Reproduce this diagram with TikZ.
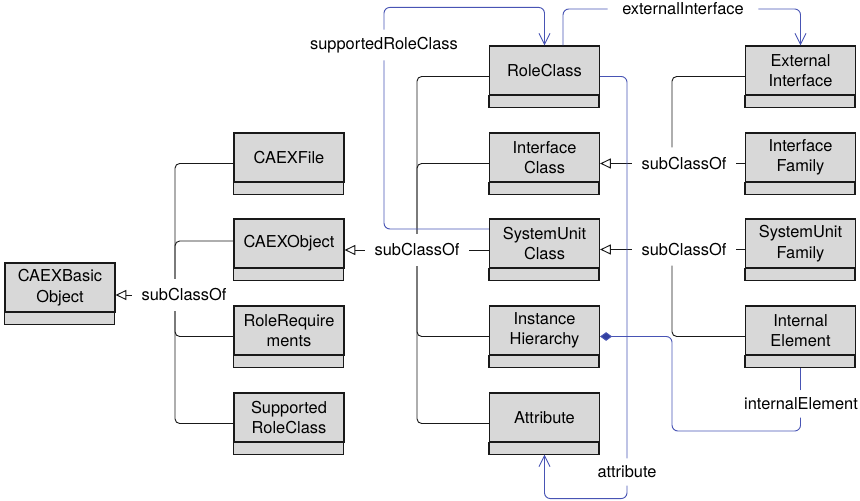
\documentclass[tikz,border=0pt]{standalone}
\usepackage{fontspec}
\setmainfont{TeX Gyre Heros}
\usetikzlibrary{arrows.meta}
\definecolor{boxgray}{RGB}{216,216,216}
\definecolor{assocblue}{RGB}{72,84,180}
\definecolor{diamondblue}{RGB}{50,64,160}

\begin{document}
\begin{tikzpicture}[x=0.3mm, y=-0.3mm, line width=0.8pt,
  font=\fontsize{14}{17.5}\selectfont,
  cls/.style={draw=black!90, fill=boxgray, line width=1pt, minimum width=33mm,
    minimum height=14.7mm, align=center, inner sep=0pt},
  compart/.style={draw=black!90, fill=boxgray, line width=1pt},
  tree/.style={draw=black!90, rounded corners=4pt},
  sub/.style={draw=black!90, -{Triangle[open, length=3.2mm, width=3mm, fill=white]}},
  subl/.style={inner sep=8pt},
  assoc/.style={draw=assocblue, rounded corners=5pt},
  assocl/.style={inner xsep=12pt, inner ysep=6pt},
  nav/.style={-{Straight Barb[length=3.3mm, width=3.3mm]}}]

  \useasboundingbox (0,0) rectangle (860,501);

  % Class boxes (upper part, compartment added below)
  \node[cls] (bo) at (60,287.5) {CAEXBasic\\Object};

  \node[cls] (cf) at (289,157.5) {CAEXFile};
  \node[cls] (co) at (289,243.5) {CAEXObject};
  \node[cls] (rr) at (289,330.5) {RoleRequire\\ments};
  \node[cls] (sr) at (289,417.5) {Supported\\RoleClass};

  \node[cls] (rc) at (544.5,70.5) {RoleClass};
  \node[cls] (ic) at (544.5,157.5) {Interface\\Class};
  \node[cls] (suc) at (544.5,243.5) {SystemUnit\\Class};
  \node[cls] (ih) at (544.5,330.5) {Instance\\Hierarchy};
  \node[cls] (at) at (544.5,417.5) {Attribute};

  \node[cls] (ei) at (800.5,70.5) {External\\Interface};
  \node[cls] (ifam) at (800.5,157.5) {Interface\\Family};
  \node[cls] (sufam) at (800.5,243.5) {SystemUnit\\Family};
  \node[cls] (ie) at (800.5,330.5) {Internal\\Element};

  \foreach \n in {bo,cf,co,rr,sr,rc,ic,suc,ih,at,ei,ifam,sufam,ie}
    \draw[compart] (\n.south west) rectangle ++(33mm,-3.6mm);

  % subClassOf labels
  \node[subl] (sc1) at (184,295) {subClassOf};
  \node[subl] (sc2) at (417,250) {subClassOf};
  \node[subl] (sc3) at (684,163.5) {subClassOf};
  \node[subl] (sc4) at (684,249.5) {subClassOf};

  % Left tree: children of CAEXBasicObject
  \draw[tree] ([yshift=-1.8mm]cf.west) -| ([xshift=-2.7mm]sc1.north);
  \draw[tree] ([yshift=0.75mm]co.west) -| ([xshift=-2.7mm]sc1.north);
  \draw[tree] ([yshift=-1.8mm]rr.west) -| ([xshift=-2.7mm]sc1.south);
  \draw[tree] ([yshift=-1.8mm]sr.west) -| ([xshift=-2.7mm]sc1.south);
  \draw[sub] (sc1.west) -- (sc1.west -| bo.east);

  % Middle tree: children of CAEXObject
  \draw[tree] ([yshift=-1.8mm]rc.west) -| (sc2.north);
  \draw[tree] ([yshift=-1.8mm]ic.west) -| (sc2.north);
  \draw[tree] (sc2.east) -- (sc2.east -| suc.west);
  \draw[tree] ([yshift=-1.8mm]ih.west) -| (sc2.south);
  \draw[tree] ([yshift=-1.8mm]at.west) -| (sc2.south);
  \draw[sub] (sc2.west) -- (sc2.west -| co.east);

  % Right trees: children of InterfaceClass and SystemUnitClass
  \draw[tree] ([yshift=-1.8mm]ei.west) -| ([xshift=-3.6mm]sc3.north);
  \draw[tree] (sc3.east) -- (sc3.east -| ifam.west);
  \draw[sub] (sc3.west) -- (sc3.west -| ic.east);

  \draw[tree] (sc4.east) -- (sc4.east -| sufam.west);
  \draw[tree] ([yshift=-1.8mm]ie.west) -| ([xshift=-3.6mm]sc4.south);
  \draw[sub] (sc4.west) -- (sc4.west -| suc.east);

  % Associations
  \node[assocl] (lsrc) at (384,45) {supportedRoleClass};
  \node[assocl] (lext) at (683,9) {externalInterface};
  \node[assocl] (latt) at (627,472) {attribute};
  \node[assocl] (lint) at (801,404) {internalElement};
  \coordinate (iebend) at (672,431);

  \draw[assoc] ([yshift=4.35mm]suc.west) -| (lsrc.south);
  \draw[assoc, nav] (lsrc.north) |- ([yshift=11.4mm]rc.north) -- (rc.north);

  \draw[assoc] ([xshift=5.55mm]rc.north) |- (lext.west);
  \draw[assoc, nav] (lext.east) -| (ei.north);

  \draw[assoc] ([yshift=-1.8mm]rc.east) -| (latt.north);
  \draw[assoc, nav] (latt.south) |- ([yshift=-16.8mm]at.south) -- ([yshift=-3.6mm]at.south);

  \draw[assoc, {Diamond[length=3.6mm, width=2.6mm, fill=diamondblue]}-]
    ([yshift=-1.8mm]ih.east) -| (iebend) -| (ie.south |- lint.south);
  \draw[assoc] (ie.south |- lint.north) -- ([yshift=-3.6mm]ie.south);

\end{tikzpicture}
\end{document}
